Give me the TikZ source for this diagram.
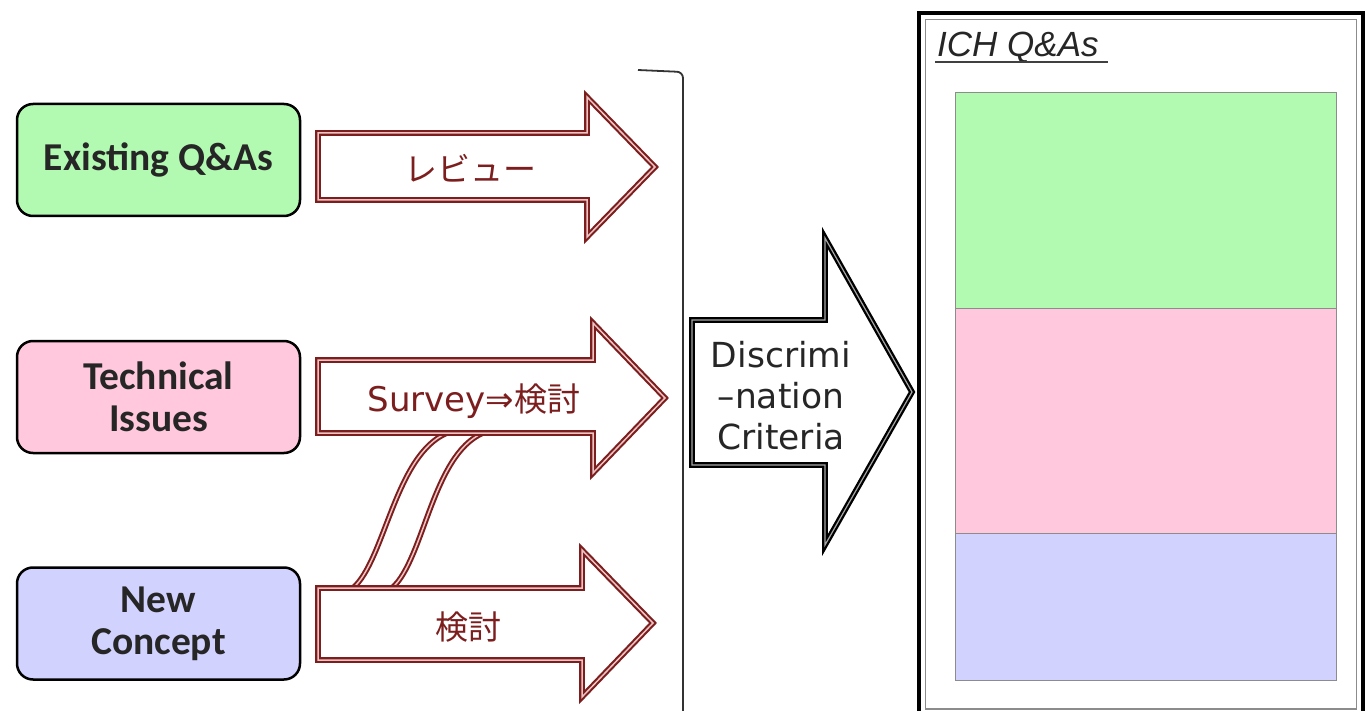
\documentclass[tikz,border=0pt]{standalone}
\usepackage{fontspec}
\setmainfont{Carlito}
\newfontfamily\jpfont{Noto Sans CJK JP}
\newfontfamily\dvfont{DejaVu Sans}
\newfontfamily\arialfont{Liberation Sans}
\definecolor{qgreen}{RGB}{178,250,178}
\definecolor{qpink}{RGB}{255,200,220}
\definecolor{qblue}{RGB}{210,210,255}
\definecolor{darkred}{RGB}{125,30,30}
\definecolor{lightred}{RGB}{236,196,196}
\tikzset{
  qbox/.style={draw=black, line width=2.5pt, rounded corners=16pt,
    minimum width=283pt, minimum height=112pt, align=center,
    font=\fontsize{39.5}{42}\selectfont\bfseries, text=black!85},
  redarrow/.style={draw=darkred, fill=white, line width=2.1pt,
    double=lightred, double distance=1.5pt, line join=miter},
  redcurve/.style={draw=darkred, line width=2pt,
    double=lightred, double distance=1.5pt},
  redtext/.style={text=darkred, font=\fontsize{33}{38}\selectfont\jpfont},
  blackarrow/.style={draw=black, fill=white, line width=2.3pt,
    double=black!35, double distance=1.2pt, line join=miter},
  bracket/.style={draw=black!80, line width=1.8pt},
  band/.style={draw=black!45, line width=1pt},
}
\begin{document}
\begin{tikzpicture}[x=1pt,y=-1pt]
\useasboundingbox (0,0) rectangle (1370,711);

% source boxes
\node[qbox, fill=qgreen] (existing) at (158.5,160) {Existing Q\&As};
\node[qbox, fill=qpink] (technical) at (158.5,397) {Technical\\Issues};
\node[qbox, fill=qblue] (newconcept) at (158.5,623.5) {New\\Concept};

% connecting band between the lower two arrows
\coordinate (bandLa) at (353,588);
\coordinate (bandLb) at (447,433);
\coordinate (bandRa) at (392,588);
\coordinate (bandRb) at (483,433);
\draw[redcurve] (bandLa) .. controls (385,560) and (395,455) .. (bandLb);
\draw[redcurve] (bandRa) .. controls (424,560) and (432,455) .. (bandRb);

% review / survey / study arrows
\draw[redarrow] (318,133) -- (587,133) -- (587,97) -- (655,167)
  -- (587,237) -- (587,200) -- (318,200) -- cycle;
\node[redtext] (review) at (470,168) {レビュー};

\draw[redarrow] (318,360) -- (593,360) -- (593,323) -- (665,398)
  -- (593,473) -- (593,433) -- (318,433) -- cycle;
\node[redtext] (survey) at (474,401) {{\dvfont\fontsize{34}{38}\selectfont Survey⇒}検討};

\draw[redarrow] (318,588) -- (582,588) -- (582,550) -- (653,623)
  -- (582,697) -- (582,660) -- (318,660) -- cycle;
\node[redtext] (study) at (468,627) {検討};

% grouping bracket
\draw[bracket, rounded corners=6pt] (638,70) -- (683,72) -- (683,712);

% discrimination arrow
\draw[blackarrow] (692,320) -- (825,320) -- (825,238) -- (912,392)
  -- (825,545) -- (825,465) -- (692,465) -- cycle;
\node[align=center, font=\fontsize{34.5}{41}\selectfont\dvfont, text=black!85]
  (criteria) at (781,396) {Discrimi\\–nation\\Criteria};

% ICH Q&As panel
\draw[draw=black, line width=3.5pt] (919,13) rectangle (1363,716);
\draw[draw=black!45, line width=1.2pt] (925.5,19.5) rectangle (1356.5,709);
\node[anchor=base west, inner sep=0pt, font=\fontsize{35}{40}\selectfont\arialfont\itshape,
  text=black!85] (ich) at (937,57) {ICH Q\&As};
\draw[black!75, line width=1.5pt] (935,62) -- (1108,62);

\path[band, fill=qgreen] (955,93) rectangle (1336,308);
\path[band, fill=qpink] (955,308) rectangle (1336,533);
\path[band, fill=qblue] (955,533) rectangle (1336,680);
\end{tikzpicture}
\end{document}
